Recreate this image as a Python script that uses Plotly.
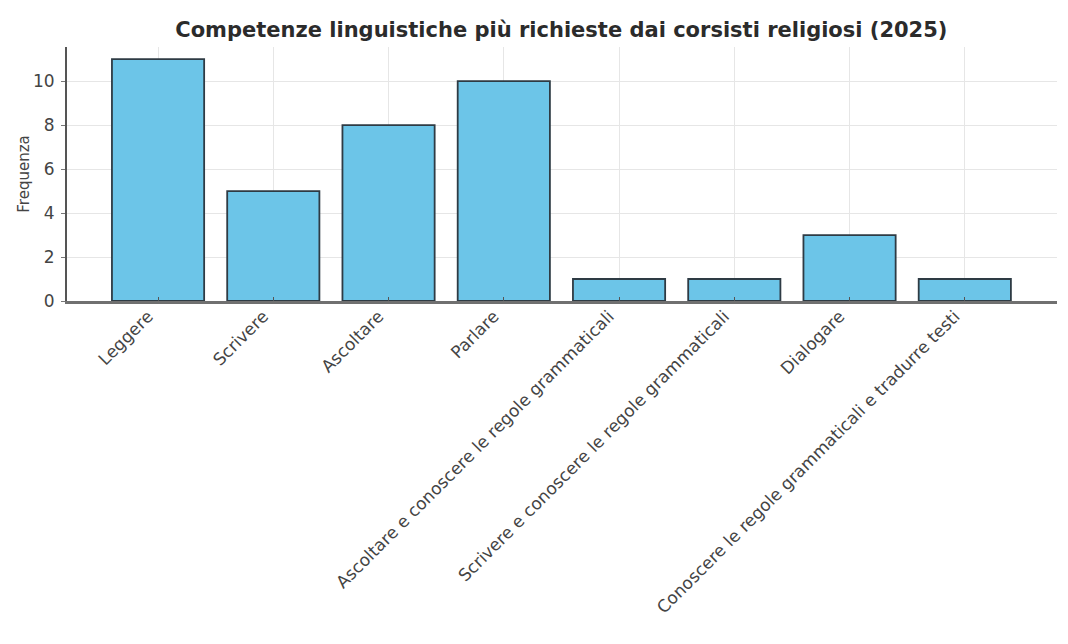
import plotly.graph_objects as go

categories = [
    "Leggere",
    "Scrivere",
    "Ascoltare",
    "Parlare",
    "Ascoltare e conoscere le regole grammaticali",
    "Scrivere e conoscere le regole grammaticali",
    "Dialogare",
    "Conoscere le regole grammaticali e tradurre testi",
]
frequenze = [11, 5, 8, 10, 1, 1, 3, 1]
y_ticks = [0, 2, 4, 6, 8, 10]

fig = go.Figure(
    go.Bar(
        x=list(range(len(categories))),
        y=frequenze,
        width=0.8,
        marker=dict(color="#6cc5e8", line=dict(color="#2e3b44", width=1.8)),
    )
)

fig.update_layout(
    width=1052,
    height=628,
    paper_bgcolor="white",
    plot_bgcolor="white",
    margin=dict(l=59, r=3, t=39, b=335),
    title=dict(
        text="<b>Competenze linguistiche più richieste dai corsisti religiosi (2025)</b>",
        x=0.526,
        xanchor="center",
        y=0.965,
        yanchor="middle",
        font=dict(family="DejaVu Sans", size=21, color="#2b2b2b"),
    ),
    font=dict(family="DejaVu Sans", size=16, color="#444444"),
    showlegend=False,
    bargap=0.2,
)

fig.update_xaxes(
    range=[-0.79, 7.8],
    tickmode="array",
    tickvals=list(range(len(categories))),
    ticktext=categories,
    tickangle=-45,
    showgrid=True,
    gridcolor="#e6e6e6",
    gridwidth=1,
    showline=True,
    linecolor="#707070",
    linewidth=2.5,
    ticks="inside",
    ticklen=4,
    tickcolor="#555555",
    zeroline=False,
    automargin=False,
    ticklabelshift=-10,
    ticklabelstandoff=-4,
    tickfont=dict(size=17, color="#444444"),
)

fig.update_yaxes(
    range=[0, 11.55],
    tickmode="array",
    tickvals=y_ticks,
    showgrid=True,
    gridcolor="#e6e6e6",
    gridwidth=1,
    showline=True,
    linecolor="#555555",
    linewidth=2,
    ticks="outside",
    ticklen=4,
    tickcolor="#777777",
    zeroline=False,
    automargin=False,
    ticklabelstandoff=3,
    title=dict(text="Frequenza", font=dict(size=15, color="#444444"), standoff=0),
    tickfont=dict(size=17, color="#444444"),
)

fig.write_html("out.html")
